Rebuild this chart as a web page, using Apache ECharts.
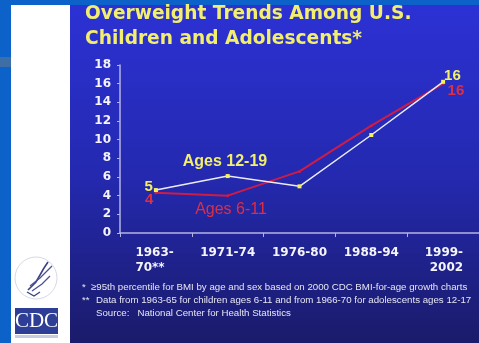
<!DOCTYPE html>
<html><head><meta charset="utf-8">
<script src="https://cdn.jsdelivr.net/npm/echarts@6/dist/echarts.min.js"></script>
<style>html,body{margin:0;padding:0;background:#0d62c9;overflow:hidden}#c{width:479px;height:343px}</style>
</head><body><div id="c"></div>
<script>
// ---- data ----
const categories = ['1963-\n70**', '1971-74', '1976-80', '1988-94', '1999-\n2002'];
const ages12to19 = [4.6, 6.1, 5.0, 10.5, 16.2];
const ages6to11 = [4.3, 4.0, 6.6, 11.5, 16.0];
const yTicks = [0, 2, 4, 6, 8, 10, 12, 14, 16, 18];
const seriesNames = ['Ages 12-19', 'Ages 6-11'];
const titleLines = ['Overweight Trends Among U.S.', 'Children and Adolescents*'];
const footnoteMarks = ['*', '**', ''];
const footnotes = [
  '\u226595th percentile for BMI by age and sex based on 2000 CDC BMI-for-age growth charts',
  'Data from 1963-65 for children ages 6-11 and from 1966-70 for adolescents ages 12-17',
  'Source:   National Center for Health Statistics'
];

const YELLOW = '#f2ee6e';
const RED = '#cf1c45';
const RED_TXT = '#de2f42';
const AXIS = '#b4b4e4';

const chart = echarts.init(document.getElementById('c'), null, {renderer: 'canvas'});

function endLabel(show, pos, offset, color) {
  return show ? {show: true, position: pos, distance: 3, offset: offset, color: color,
    fontFamily: 'Liberation Sans', fontWeight: 'bold', fontSize: 15,
    formatter: p => String(Math.round(p.value))} : {show: false};
}
const whiteData = ages12to19.map((v, i) => ({
  value: v,
  label: i === 0 ? endLabel(true, 'left', [2, -3], YELLOW)
       : i === ages12to19.length - 1 ? endLabel(true, 'right', [-4, -6], YELLOW)
       : {show: false}
}));
const redData = ages6to11.map((v, i) => ({
  value: v,
  label: i === 0 ? endLabel(true, 'left', [2, 7], RED_TXT)
       : i === ages6to11.length - 1 ? endLabel(true, 'right', [0, 7], RED_TXT)
       : {show: false}
}));

const graphics = [
  {type: 'rect', shape: {x: 0, y: 0, width: 479, height: 343}, style: {fill: '#0d62c9'}, silent: true, z: -10},
  {type: 'rect', shape: {x: 0, y: 57, width: 11, height: 10}, style: {fill: '#3d6fa6'}, silent: true, z: -9},
  {type: 'rect', shape: {x: 11, y: 5, width: 59, height: 338}, style: {fill: '#ffffff'}, silent: true, z: -9},
  {type: 'rect', shape: {x: 70, y: 5, width: 409, height: 338},
   style: {fill: new echarts.graphic.LinearGradient(0, 0, 0, 1, [
     {offset: 0, color: '#2c31d4'}, {offset: 0.5, color: '#2429b0'}, {offset: 1, color: '#1a1b6a'}])},
   silent: true, z: -9},
  // HHS seal
  {type: 'circle', shape: {cx: 36, cy: 278, r: 21}, style: {fill: 'none', stroke: '#c4c8d8', lineWidth: 0.7}, silent: true, z: -8},
  {type: 'polyline', shape: {points: [[28, 290], [36, 282], [44, 268], [48, 262]]}, style: {stroke: '#3a4282', lineWidth: 1.6, fill: 'none'}, silent: true, z: -8},
  {type: 'polyline', shape: {points: [[30, 286], [40, 278], [48, 270], [52, 266]]}, style: {stroke: '#4a5296', lineWidth: 1.3, fill: 'none'}, silent: true, z: -8},
  {type: 'polyline', shape: {points: [[32, 291], [42, 284], [50, 276]]}, style: {stroke: '#4a5296', lineWidth: 1.3, fill: 'none'}, silent: true, z: -8},
  {type: 'polyline', shape: {points: [[27, 292], [34, 296], [40, 292]]}, style: {stroke: '#3a4282', lineWidth: 1.3, fill: 'none'}, silent: true, z: -8},
  // CDC logo
  {type: 'rect', shape: {x: 15, y: 308, width: 43, height: 26}, style: {fill: '#2e3d96'}, silent: true, z: -8},
  {type: 'text', style: {text: 'CDC', x: 36.5, y: 321.5, align: 'center', verticalAlign: 'middle',
    fontFamily: 'Liberation Serif', fontSize: 21, fill: '#ffffff'}, silent: true, z: -7},
  {type: 'rect', shape: {x: 15, y: 335, width: 43, height: 3}, style: {fill: '#c8cce0'}, silent: true, z: -8}
];
titleLines.forEach((t, i) => graphics.push({type: 'text', style: {text: t, x: 85, y: 14 + i * 25,
  verticalAlign: 'middle', fontFamily: 'DejaVu Sans', fontWeight: 'bold', fontSize: 18.6, fill: YELLOW}, silent: true}));
const fnY = [287, 300, 313];
const fnX = [91, 96, 96];
footnotes.forEach((t, i) => {
  if (footnoteMarks[i]) graphics.push({type: 'text', style: {text: footnoteMarks[i], x: 82, y: fnY[i], verticalAlign: 'middle',
    fontFamily: 'Liberation Sans', fontSize: 9.7, fill: '#e6e6f4'}, silent: true});
  graphics.push({type: 'text', style: {text: t, x: fnX[i], y: fnY[i], verticalAlign: 'middle',
    fontFamily: 'Liberation Sans', fontSize: 9.7, fill: '#e6e6f4'}, silent: true});
});
// series annotations
graphics.push({type: 'text', style: {text: seriesNames[0], x: 225, y: 162, align: 'center', verticalAlign: 'middle',
  fontFamily: 'Liberation Sans', fontWeight: 'bold', fontSize: 16, fill: YELLOW}, silent: true});
graphics.push({type: 'text', style: {text: seriesNames[1], x: 231, y: 210, align: 'center', verticalAlign: 'middle',
  fontFamily: 'Liberation Sans', fontSize: 16, fill: RED_TXT}, silent: true});

const lastIdx = categories.length - 1;
chart.setOption({
  animation: false,
  backgroundColor: 'transparent',
  grid: {left: 120, top: 65, width: 365, height: 168, containLabel: false},
  xAxis: {
    type: 'category', data: categories, boundaryGap: true,
    axisLine: {lineStyle: {color: AXIS, width: 1.5}},
    axisTick: {show: true, length: 4, inside: false, alignWithLabel: false, lineStyle: {color: AXIS}},
    axisLabel: {
      margin: 12, interval: 0,
      formatter: (v, i) => {
        const key = i === 0 ? 'l' : (i === lastIdx ? 'r' : 'c');
        return v.split('\n').map(s => '{' + key + '|' + s + '}').join('\n');
      },
      rich: {
        l: {width: 41, align: 'left', fontFamily: 'DejaVu Sans', fontWeight: 'bold', fontSize: 12, color: '#f4f4fa', lineHeight: 15},
        r: {width: 40, align: 'right', fontFamily: 'DejaVu Sans', fontWeight: 'bold', fontSize: 12, color: '#f4f4fa', lineHeight: 15},
        c: {align: 'center', fontFamily: 'DejaVu Sans', fontWeight: 'bold', fontSize: 12, color: '#f4f4fa', lineHeight: 15}
      }
    },
    splitLine: {show: false}
  },
  yAxis: {
    type: 'value', min: yTicks[0], max: yTicks[yTicks.length - 1], interval: yTicks[1] - yTicks[0],
    axisLine: {show: true, lineStyle: {color: AXIS, width: 1.5}},
    axisTick: {show: true, length: 3, lineStyle: {color: AXIS}},
    axisLabel: {margin: 9, fontFamily: 'DejaVu Sans', fontWeight: 'bold', fontSize: 12, color: '#f4f4fa'},
    splitLine: {show: false}
  },
  series: [
    {name: seriesNames[1], type: 'line', data: redData, z: 2,
     lineStyle: {color: RED, width: 2}, symbol: 'circle', symbolSize: 3,
     itemStyle: {color: RED}},
    {name: seriesNames[0], type: 'line', data: whiteData, z: 3,
     lineStyle: {color: '#ececf6', width: 1.5}, symbol: 'rect', symbolSize: 4,
     itemStyle: {color: '#f4f060'}}
  ],
  graphic: graphics
});
</script>
</body></html>
